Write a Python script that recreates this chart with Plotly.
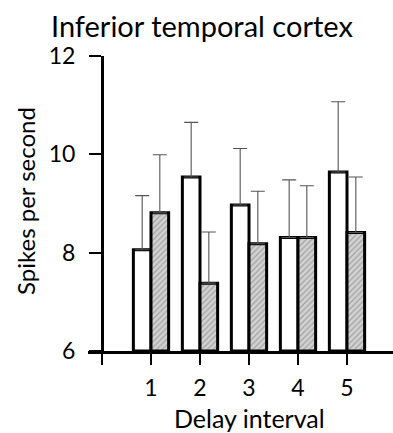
import plotly.graph_objects as go

# Mean firing rate per delay interval, two conditions
intervals = [1, 2, 3, 4, 5]
open_means = [8.06, 9.54, 8.97, 8.31, 9.64]
open_err = [1.10, 1.11, 1.15, 1.17, 1.43]
hatched_means = [8.81, 7.38, 8.18, 8.31, 8.41]
hatched_err = [1.18, 1.04, 1.07, 1.05, 1.13]

x_ticks = [0, 1, 2, 3, 4, 5]
x_ticktext = ["", "1", "2", "3", "4", "5"]
y_ticks = [6, 8, 10, 12]

FONT = "Lato"
BASE = 6

W, H = 393, 433
L, R, T, B = 88, 0, 56, 82
PW, PH = W - L - R, H - T - B


def px_x(px):
    return (px - L) / PW


def px_y(py):
    return (H - B - py) / PH


err_style = dict(type="data", symmetric=False, thickness=1.1, width=7, color="#555555")

fig = go.Figure()
fig.add_trace(go.Bar(
    x=intervals,
    y=[m - BASE for m in open_means],
    base=BASE,
    marker=dict(color="white", line=dict(color="black", width=3)),
    error_y=dict(array=open_err, arrayminus=[0] * 5, **err_style),
    showlegend=False,
))
fig.add_trace(go.Bar(
    x=intervals,
    y=[m - BASE for m in hatched_means],
    base=BASE,
    marker=dict(
        color="#c8c8c8",
        line=dict(color="black", width=3),
        pattern=dict(shape="/", bgcolor="#d2d2d2", fgcolor="#707070", size=4, solidity=0.3),
    ),
    error_y=dict(array=hatched_err, arrayminus=[0] * 5, **err_style),
    showlegend=False,
))

x_lo = -14 / 49
x_hi = x_lo + PW / 49

fig.update_layout(
    width=W, height=H,
    margin=dict(l=L, r=R, t=T, b=B, pad=0),
    paper_bgcolor="white", plot_bgcolor="white",
    barmode="group", bargap=0.28, bargroupgap=0,
    font=dict(family=FONT, color="black"),
    xaxis=dict(
        range=[x_lo, x_hi],
        tickvals=x_ticks, ticktext=x_ticktext,
        showline=True, linecolor="black", linewidth=3,
        ticks="outside", ticklen=11, tickwidth=1.5, tickcolor="black",
        tickfont=dict(size=23, family=FONT),
        ticklabelstandoff=3,
        showgrid=False, zeroline=False,
    ),
    yaxis=dict(
        range=[6, 12],
        tickvals=y_ticks,
        anchor="free", position=(0 - x_lo) / (x_hi - x_lo),
        showline=True, linecolor="black", linewidth=3,
        ticks="outside", ticklen=12, tickwidth=2, tickcolor="black",
        tickfont=dict(size=23, family=FONT),
        ticklabelstandoff=9,
        showgrid=False, zeroline=False,
    ),
    annotations=[
        dict(text="Inferior temporal cortex", x=px_x(202), y=px_y(25),
             xref="paper", yref="paper", xanchor="center", yanchor="middle",
             showarrow=False, font=dict(size=29, family=FONT)),
        dict(text="Spikes per second", x=px_x(25), y=px_y(201),
             xref="paper", yref="paper", xanchor="center", yanchor="middle",
             textangle=-90, showarrow=False, font=dict(size=24, family=FONT)),
        dict(text="Delay interval", x=px_x(250), y=px_y(418),
             xref="paper", yref="paper", xanchor="center", yanchor="middle",
             showarrow=False, font=dict(size=25, family=FONT)),
    ],
)

fig.write_html("out.html")
